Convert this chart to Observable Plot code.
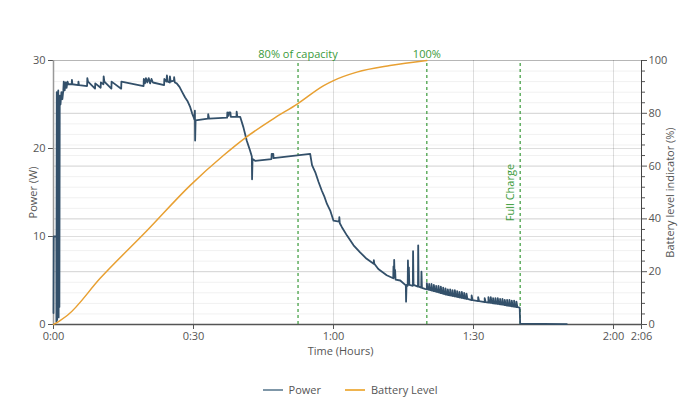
<!DOCTYPE html>
<html><head><meta charset="utf-8">
<script src="https://cdn.jsdelivr.net/npm/d3@7"></script>
<script src="https://cdn.jsdelivr.net/npm/@observablehq/plot@0.6"></script>
<style>
body{margin:0;background:#fff;font-family:"Open Sans",sans-serif;}
#wrap{position:relative;width:700px;height:400px;overflow:hidden;}
#legend{position:absolute;left:0;top:382px;width:700px;display:flex;justify-content:center;gap:24px;font-size:11px;color:#555;}
.item{display:flex;align-items:center;}
.sw{width:20px;height:2px;margin-right:6px;}
</style></head><body><div id="wrap"><div id="chart"></div><div id="legend"></div></div>
<script>
// Time in minutes, power in W
const powerStart = [
  [0,1.3],[0.05,10],[0.6,10],[0.62,0.3],[0.7,26.4],[0.78,0.5],[0.86,26.2],[0.94,1.2],[1.02,26.6],[1.1,0.8],
  [1.18,25.4],[1.26,2.0],[1.34,26.0],[1.5,25.0],[1.7,26.4],[1.9,25.6],[2.1,26.6],[2.2,27.6],[2.4,26.6],
  [2.6,27.5],[2.8,26.9],[3.0,27.6],[3.2,27.3],
  [3.9,27.3],[3.95,27.8],[4.05,27.3],[5.3,27.2],[5.35,27.6],[5.45,27.2],[7.2,27.1],[7.25,28.0],[7.4,27.6],
  [8.9,26.8],[8.95,27.4],[10.1,26.9],[10.15,27.5],[10.7,27.3],[10.75,28.2],[10.9,27.6],[12.4,26.8],[12.45,27.6],
  [14.5,26.8],[14.55,27.6],[19.3,27.1],[19.35,27.9],[19.6,27.4],[19.8,28.0],[20.1,27.5],[20.4,28.0],[20.7,27.4],
  [21.0,27.9],[21.3,27.5],[23.7,27.2],[23.75,27.9],[24.2,27.6],[24.3,28.3],[24.5,27.6],[24.9,27.5],[24.95,28.2],
  [25.1,27.6],[25.8,27.7],[25.85,28.1],[26.0,27.5],[26.4,27.4],
  [27.0,27.0],[27.5,26.5],[28.2,25.8],[28.7,25.4],[29.3,24.7],[29.7,24.0],[30.0,23.6],[30.2,23.3],[30.3,24.3],
  [30.35,20.9],[30.45,23.2],[33.1,23.4],[33.15,23.9],[33.35,23.4],[37.2,23.5],[37.25,24.1],[37.5,23.7],[37.6,24.1],
  [37.9,24.1],[38.0,23.6],[39.2,23.6],[39.25,24.2],[39.4,23.6],[40.0,23.6],
  [40.7,22.4],[41.4,20.9],[42.1,19.8],[42.5,19.1],[42.55,16.5],[42.65,18.8],[43.2,18.6],[46.7,18.8],[46.75,19.4],
  [47.1,19.4],[47.15,18.9],[55.0,19.4],[55.4,18.1],[56.1,17.3],[56.8,16.2],[57.5,15.2],[58.0,14.6],[58.6,13.7],
  [59.3,12.95],[60.0,11.8],[61.2,11.7],[61.25,12.2],[61.35,11.5],[61.8,11.06],[62.9,10.1],[64.3,9.0],[65.7,8.2],
  [67.1,7.46],[68.6,6.9],[68.65,7.3],[68.75,6.9],[69.6,6.3],[71.4,5.6],
  [72.8,5.25],[72.85,6.6],[72.95,5.3],[73.0,7.35],[73.1,5.4],[73.2,6.2],[73.3,5.1],[74.3,5.0],[75.5,4.45],
  [75.55,2.6],[75.65,4.5],[75.9,4.4],[75.95,7.27],[76.05,4.8],[76.15,6.5],[76.25,4.5],[77.0,4.4],[77.05,8.33],
  [77.15,4.5],[78.1,4.3],[78.15,9.0],[78.25,4.3],[78.8,4.2],[78.85,6.0],[78.95,4.15],[79.6,4.05]
];
// comb of small spikes: [time, base W, peak W]
const combTeeth = [
  [80.0,4.0,4.7],[80.5,3.93,4.6],[81.0,3.86,4.6],[81.5,3.79,4.5],[82.0,3.72,4.4],[82.5,3.65,4.4],
  [83.0,3.57,4.3],[83.5,3.49,4.2],[84.0,3.41,4.1],[84.5,3.35,4.0],[85.0,3.30,4.0],[85.5,3.24,3.9],
  [86.0,3.18,3.9],[86.5,3.13,3.8],[87.0,3.07,3.7],[87.5,3.01,3.7],[88.0,2.96,3.6],[88.5,2.90,3.5],
  [89.6,2.77,3.3],[91.0,2.65,3.1],[92.4,2.55,3.0],[93.2,2.49,3.1],[93.7,2.45,3.1],[94.2,2.41,3.0],
  [94.7,2.37,3.0],[95.2,2.33,3.0],[95.7,2.29,2.9],[96.2,2.25,2.9],[96.7,2.20,2.8],[97.2,2.15,2.8],
  [97.7,2.11,2.8],[98.2,2.07,2.7],[98.7,2.02,2.7],[99.2,1.98,2.6]
];
const powerEnd = [[99.7,1.95],[99.9,1.9],[100.0,0.1],[110,0.05]];

// Battery level (%)
const battery = [
  [0,0],[1.4,1.5],[3,3.5],[10,17.5],[20,35.5],[29.3,52.7],[36.4,64],[41.1,70.7],[47.1,77.9],
  [52.3,83.6],[57.9,90.5],[60,92.4],[65,95.6],[72.1,98.1],[80,100]
];

const xTicks = [0,30,60,90,120,126];
const xGrid = [30,60,90,120];
const leftTicks = [0,10,20,30];
const rightMajor = [0,20,40,60,80,100];
const rightMinor = [4,8,12,16,24,28,32,36,44,48,52,56,64,68,72,76,84,88,92,96];
const rightGrid = [0,4,8,12,16,20,24,28,32,36,40,44,48,52,56,60,64,68,72,76,80,84,88,92,96,100];
const markers = [
  {t:52.4, label:"80% of capacity"},
  {t:80, label:"100%"},
  {t:100, label:"Full Charge"}
];

const blue = "#33506a", orange = "#e8a032", green = "#3a9a3a";
const power = powerStart
  .concat(combTeeth.flatMap(([t,b,p]) => [[t,b],[t,p],[t+0.2,b]]))
  .concat(powerEnd);
const pctToW = p => p * 30 / 100;
const fmt = m => `${Math.floor(m/60)}:${String(m%60).padStart(2,"0")}`;

const chart = Plot.plot({
  width: 700, height: 375,
  marginLeft: 53, marginRight: 59, marginTop: 60, marginBottom: 51,
  style: {fontFamily: "Open Sans", fontSize: "11px", color: "#555", background: "#fff"},
  x: {domain: [0,126]},
  y: {domain: [0,30]},
  marks: [
    Plot.gridY(rightGrid.map(pctToW), {stroke: "#000", strokeOpacity: 0.06}),
    Plot.gridY(rightMajor.map(pctToW), {stroke: "#000", strokeOpacity: 0.13}),
    Plot.gridY(leftTicks, {stroke: "#000", strokeOpacity: 0.13}),
    Plot.gridX(xGrid, {stroke: "#000", strokeOpacity: 0.13}),
    Plot.axisX({ticks: xTicks, tickFormat: fmt, tickSize: 5, tickPadding: 3, label: null}),
    Plot.axisY({anchor: "left", ticks: leftTicks, tickSize: 5, tickPadding: 3, label: null}),
    Plot.axisY({anchor: "right", ticks: rightMajor.map(pctToW), tickFormat: v => String(Math.round(v*100/30)), tickSize: 5, tickPadding: 2, label: null}),
    Plot.axisY({anchor: "right", ticks: rightMinor.map(pctToW), tickFormat: () => "", tickSize: 3, label: null}),
    Plot.ruleX([0], {stroke: "#999", strokeWidth: 1.5}),
    Plot.ruleX([126], {stroke: "#444"}),
    Plot.ruleY([0], {stroke: "#555", strokeWidth: 1.5}),
    Plot.ruleX(markers, {x: "t", y1: 0, y2: 30, stroke: green, strokeWidth: 1.2, strokeDasharray: "3,3"}),
    Plot.line(power, {x: d => d[0], y: d => d[1], stroke: blue, strokeWidth: 1.8}),
    Plot.line(battery, {x: d => d[0], y: d => pctToW(d[1]), stroke: orange, strokeWidth: 1.5, curve: "monotone-x"}),
    Plot.text(markers.slice(0,2), {x: "t", text: "label", frameAnchor: "top", dy: -10, fill: green, fontSize: 11}),
    Plot.text(markers.slice(2), {x: "t", y: () => 15, text: "label", rotate: -90, dx: -10, fill: green, fontSize: 11}),
    Plot.text(["Power (W)"], {frameAnchor: "left", textAnchor: "middle", lineAnchor: "middle", rotate: -90, dx: -20, fill: "#555", fontSize: 11}),
    Plot.text(["Battery level indicator (%)"], {frameAnchor: "right", textAnchor: "middle", lineAnchor: "middle", rotate: -90, dx: 29, fill: "#555", fontSize: 11}),
    Plot.text(["Time (Hours)"], {frameAnchor: "bottom", textAnchor: "middle", lineAnchor: "middle", dy: 27, dx: -7, fill: "#555", fontSize: 11})
  ]
});
document.getElementById("chart").appendChild(chart);

const legendItems = [{name: "Power", color: "#7f97a8"}, {name: "Battery Level", color: "#efb44f"}];
const lg = document.getElementById("legend");
for (const it of legendItems) {
  const d = document.createElement("div"); d.className = "item";
  const s = document.createElement("div"); s.className = "sw"; s.style.background = it.color;
  const t = document.createElement("span"); t.textContent = it.name;
  d.appendChild(s); d.appendChild(t); lg.appendChild(d);
}
</script></body></html>
